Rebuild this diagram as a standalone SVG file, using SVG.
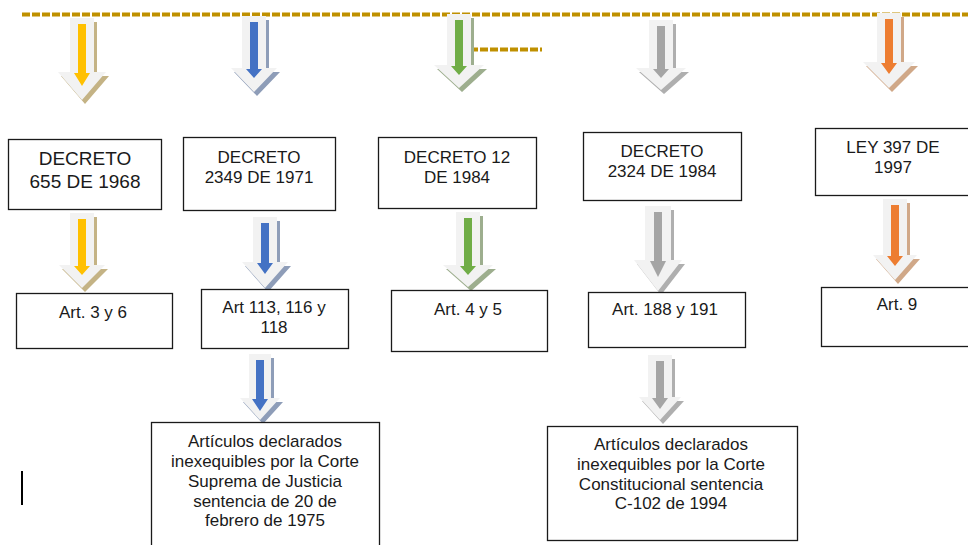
<svg xmlns="http://www.w3.org/2000/svg" width="968" height="545" viewBox="0 0 968 545">
<style>
.box{fill:#fff;stroke:#1a1a1a;stroke-width:1.3}
.t{font-family:"Liberation Sans",Arial,sans-serif;font-size:17px;text-anchor:middle;fill:#1a1a1a}
.tb{font-size:19px}
.dash{stroke:#BF9000;stroke-width:4;stroke-dasharray:8 2;fill:none}
.o{fill:#F2F2F2}
.sy{fill:#C4B385}.cy{fill:#FFC000}
.sb{fill:#8E9DB8}.cb{fill:#4472C4}
.sg{fill:#9DAE8E}.cg{fill:#70AD47}
.sr{fill:#AFAFAF}.cr{fill:#A5A5A5}
.so{fill:#D0A888}.co{fill:#ED7D31}
</style>
<rect width="968" height="545" fill="#fff"/>
<g id="timeline">
<line class="dash" x1="22" y1="14.5" x2="968" y2="14.5"/>
<line class="dash" x1="470" y1="49.5" x2="542" y2="49.5"/>
</g>
<g id="connectors">
<g id="a1"><polygon class="sy" transform="translate(3,4)" points="70,18 94,18 94,72 106,72 82,100 58,72 70,72"/><polygon class="o" points="70,18 94,18 94,72 106,72 82,100 58,72 70,72"/><polygon class="cy" points="78,24 86,24 86,73 90,73 82,86 74,73 78,73"/></g>
<g id="a2"><polygon class="sb" transform="translate(3,4)" points="242,16 266,16 266,68 277,68 254,92 231,68 242,68"/><polygon class="o" points="242,16 266,16 266,68 277,68 254,92 231,68 242,68"/><polygon class="cb" points="250,22 258,22 258,69 262,69 254,78 246,69 250,69"/></g>
<g id="a3"><polygon class="sg" transform="translate(3,4)" points="447,14 471,14 471,65 484,65 459,88 434,65 447,65"/><polygon class="o" points="447,14 471,14 471,65 484,65 459,88 434,65 447,65"/><polygon class="cg" points="455,20 463,20 463,66 467,66 459,75 451,66 455,66"/></g>
<g id="a4"><polygon class="sr" transform="translate(3,4)" points="649,20 673,20 673,68 686,68 661,90 636,68 649,68"/><polygon class="o" points="649,20 673,20 673,68 686,68 661,90 636,68 649,68"/><polygon class="cr" points="657,26 665,26 665,69 669,69 661,78 653,69 657,69"/></g>
<g id="a5"><polygon class="so" transform="translate(3,4)" points="877,13 901,13 901,62 915,62 889,88 863,62 877,62"/><polygon class="o" points="877,13 901,13 901,62 915,62 889,88 863,62 877,62"/><polygon class="co" points="885,19 893,19 893,63 897,63 889,74 881,63 885,63"/></g>
<g id="b1"><polygon class="sy" transform="translate(3,4)" points="70,213 94,213 94,265 105,265 82,288 59,265 70,265"/><polygon class="o" points="70,213 94,213 94,265 105,265 82,288 59,265 70,265"/><polygon class="cy" points="78,219 86,219 86,266 90,266 82,275 74,266 78,266"/></g>
<g id="b2"><polygon class="sb" transform="translate(3,4)" points="253,217 277,217 277,262 288,262 265,288 242,262 253,262"/><polygon class="o" points="253,217 277,217 277,262 288,262 265,288 242,262 253,262"/><polygon class="cb" points="261,223 269,223 269,263 273,263 265,274 257,263 261,263"/></g>
<g id="b3"><polygon class="sg" transform="translate(3,4)" points="456,212 480,212 480,265 493,265 468,287 443,265 456,265"/><polygon class="o" points="456,212 480,212 480,265 493,265 468,287 443,265 456,265"/><polygon class="cg" points="464,218 472,218 472,266 476,266 468,275 460,266 464,266"/></g>
<g id="b4"><polygon class="sr" transform="translate(3,4)" points="645,206 671,206 671,260 682,260 658,291 634,260 645,260"/><polygon class="o" points="645,206 671,206 671,260 682,260 658,291 634,260 645,260"/><polygon class="cr" points="654,212 662,212 662,261 666,261 658,277 650,261 654,261"/></g>
<g id="b5"><polygon class="so" transform="translate(3,4)" points="883,199 907,199 907,255 917,255 895,280 873,255 883,255"/><polygon class="o" points="883,199 907,199 907,255 917,255 895,280 873,255 883,255"/><polygon class="co" points="891,205 899,205 899,256 903,256 895,266 887,256 891,256"/></g>
<g id="c2"><polygon class="sb" transform="translate(3,4)" points="249,354 271,354 271,398 280,398 260,420 240,398 249,398"/><polygon class="o" points="249,354 271,354 271,398 280,398 260,420 240,398 249,398"/><polygon class="cb" points="256,360 264,360 264,399 268,399 260,411 252,399 256,399"/></g>
<g id="c4"><polygon class="sr" transform="translate(3,4)" points="648,355 672,355 672,397 681,397 660,420 639,397 648,397"/><polygon class="o" points="648,355 672,355 672,397 681,397 660,420 639,397 648,397"/><polygon class="cr" points="656,361 664,361 664,398 668,398 660,409 652,398 656,398"/></g>
</g>
<g id="n-decreto655">
<rect class="box" x="8.5" y="139.5" width="153" height="70"/>
<text class="t tb" x="85" y="165">DECRETO</text>
<text class="t tb" x="85" y="188">655 DE 1968</text>
</g>
<g id="n-decreto2349">
<rect class="box" x="183.5" y="137.5" width="152" height="73"/>
<text class="t" x="259" y="163">DECRETO</text>
<text class="t" x="259" y="183">2349 DE 1971</text>
</g>
<g id="n-decreto12">
<rect class="box" x="378.5" y="137.5" width="158" height="71"/>
<text class="t" x="457" y="163">DECRETO 12</text>
<text class="t" x="457" y="183">DE 1984</text>
</g>
<g id="n-decreto2324">
<rect class="box" x="583.5" y="132.5" width="158" height="68"/>
<text class="t" x="662" y="157">DECRETO</text>
<text class="t" x="662" y="177">2324 DE 1984</text>
</g>
<g id="n-ley397">
<rect class="box" x="815.5" y="128.5" width="170" height="67"/>
<text class="t" x="893" y="153">LEY 397 DE</text>
<text class="t" x="893" y="173">1997</text>
</g>
<g id="n-art3y6">
<rect class="box" x="16.5" y="293.5" width="156" height="55"/>
<text class="t" x="93" y="318">Art. 3 y 6</text>
</g>
<g id="n-art113">
<rect class="box" x="201.5" y="289.5" width="147" height="59"/>
<text class="t" x="274" y="313">Art 113, 116 y</text>
<text class="t" x="274" y="333">118</text>
</g>
<g id="n-art4y5">
<rect class="box" x="391.5" y="290.5" width="156" height="61"/>
<text class="t" x="468" y="315">Art. 4 y 5</text>
</g>
<g id="n-art188">
<rect class="box" x="588.5" y="292.5" width="157" height="55"/>
<text class="t" x="665" y="315">Art. 188 y 191</text>
</g>
<g id="n-art9">
<rect class="box" x="821.5" y="287.5" width="170" height="59"/>
<text class="t" x="897" y="310">Art. 9</text>
</g>
<g id="n-suprema">
<rect class="box" x="151.5" y="422.5" width="228" height="140"/>
<text class="t" x="265" y="447">Artículos declarados</text>
<text class="t" x="265" y="467">inexequibles por la Corte</text>
<text class="t" x="265" y="487">Suprema de Justicia</text>
<text class="t" x="265" y="507">sentencia de 20 de</text>
<text class="t" x="265" y="526">febrero de 1975</text>
</g>
<g id="n-constitucional">
<rect class="box" x="547.5" y="426.5" width="250" height="114"/>
<text class="t" x="671" y="450">Artículos declarados</text>
<text class="t" x="671" y="470">inexequibles por la Corte</text>
<text class="t" x="671" y="490">Constitucional sentencia</text>
<text class="t" x="671" y="509">C-102 de 1994</text>
</g>
<rect x="21" y="471" width="2" height="34" fill="#000"/>
</svg>
